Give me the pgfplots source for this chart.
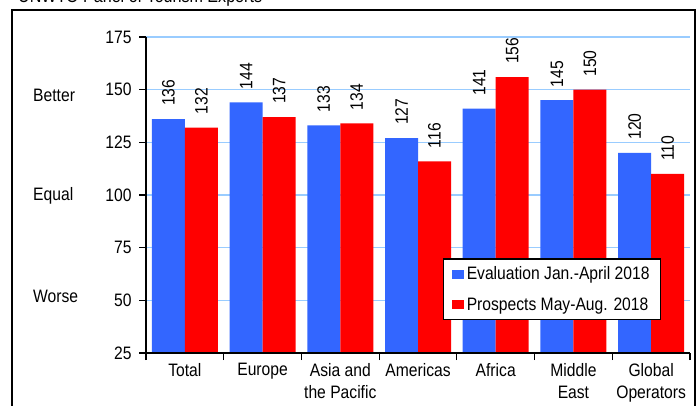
\documentclass[border=0pt]{standalone}
\usepackage{fontspec}
\setmainfont{Liberation Sans}[FakeStretch=0.87]
\usepackage{pgfplots}
\usepackage{pgfplotstable}
\pgfplotsset{compat=1.18}
\definecolor{evalblue}{RGB}{51,102,255}
\definecolor{prosred}{RGB}{255,0,0}
\definecolor{gridblue}{RGB}{153,204,255}

% x: 0 Total, 1 Europe, 2 Asia/Pacific, 3 Americas, 4 Africa, 5 Middle East, 6 Global Operators
\pgfplotstableread{
x eval prosp
0 136 132
1 144 137
2 133 134
3 127 116
4 141 156
5 145 150
6 120 110
}\panel

\begin{document}
\begin{tikzpicture}
\useasboundingbox (-146pt,-52pt) rectangle (554pt,353pt);
\clip (-146pt,-52pt) rectangle (554pt,353pt);
\draw[line width=1.5pt] (-134pt,343pt) rectangle (549pt,-70pt);
\node[anchor=base west, inner sep=0pt, font=\fontsize{18.5}{18.5}\selectfont]
  at (-128pt,350pt) {UNWTO Panel of Tourism Experts};
\node[anchor=base west, inner sep=0pt, font=\fontsize{18}{18}\selectfont] at (-113pt,252pt) {Better};
\node[anchor=base west, inner sep=0pt, font=\fontsize{18}{18}\selectfont] at (-113pt,153pt) {Equal};
\node[anchor=base west, inner sep=0pt, font=\fontsize{18}{18}\selectfont] at (-113pt,51pt) {Worse};
\begin{axis}[
    at={(0pt,0pt)}, anchor=south west,
    scale only axis, width=544pt, height=316pt,
    ybar=0pt, bar width=33pt,
    xmin=-0.5, xmax=6.5, ymin=25, ymax=175,
    ytick={25,50,...,175},
    xtick={-0.5,0.5,...,6.5},
    x tick label as interval,
    xticklabels={Total,Europe,{Asia and\\the Pacific},Americas,Africa,{Middle\\East},{Global\\Operators}},
    axis x line*=bottom, axis y line*=left,
    axis line style={line width=1.2pt, -},
    tick style={black, line width=1.2pt},
    tick align=outside, major tick length=7pt,
    ymajorgrids, grid style={gridblue, line width=1.3pt},
    /pgf/number format/assume math mode=true,
    ticklabel style={font=\fontsize{18}{21.5}\selectfont},
    xticklabel style={align=center},
    yticklabel style={xshift=-4pt},
    nodes near coords,
    every node near coord/.append style={rotate=90, anchor=west, inner xsep=13pt,
        font=\fontsize{18}{18}\selectfont, black},
    legend style={at={(0.947,0.104)}, anchor=south east, draw=black, line width=1.2pt,
        fill=white, font=\fontsize{18}{18}\selectfont, inner xsep=8pt, inner ysep=6pt,
        row sep=12pt, nodes={inner xsep=3pt, inner ysep=2pt}},
    legend cell align=left,
    legend image code/.code={\fill[#1] (0pt,-4.5pt) rectangle (12pt,4.5pt);},
]
\addplot[fill=evalblue, draw=none] table[x=x, y=eval] {\panel};
\addplot[fill=prosred, draw=none] table[x=x, y=prosp] {\panel};
\legend{Evaluation Jan.-April 2018, Prospects May-Aug. 2018}
\draw[line width=1.2pt] (rel axis cs:0,0) -- (rel axis cs:1,0);
\end{axis}
\end{tikzpicture}
\end{document}
